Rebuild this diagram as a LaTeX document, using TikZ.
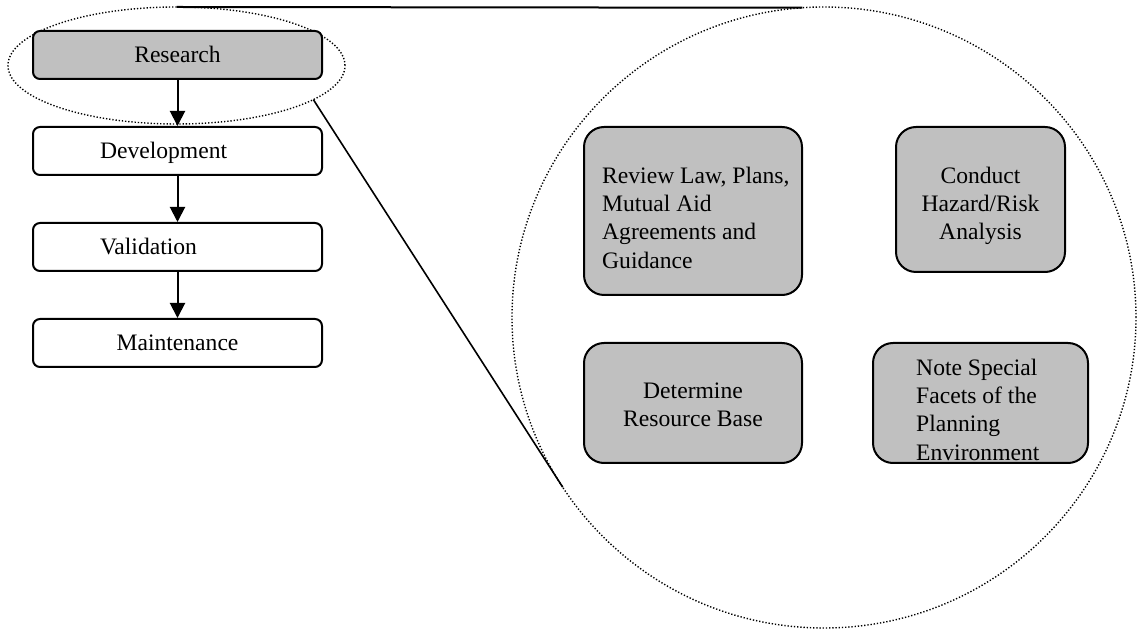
\documentclass[tikz,border=0pt]{standalone}
\usepackage{fontspec}
\setmainfont{Liberation Serif}
\usetikzlibrary{shapes.geometric,arrows.meta}
\definecolor{boxgray}{RGB}{192,192,192}
\begin{document}
\begin{tikzpicture}[x=1pt,y=1pt,
  every node/.style={font=\fontsize{23.6pt}{28.3pt}\selectfont},
  stagebox/.style={draw, line width=2pt, rounded corners=7pt,
    inner xsep=67pt, inner ysep=0pt, text width=155pt,
    minimum height=48pt, text height=20pt, text depth=4pt},
  taskbox/.style={draw, fill=boxgray, line width=2pt, rounded corners=20pt, inner sep=0pt},
  tasktext/.style={inner sep=0pt},
  flow/.style={line width=2pt, -{Triangle[width=15pt,length=15pt]}},
  dotline/.style={line width=1.4pt, dash pattern=on 1.3pt off 1.9pt},
  ring/.style={ellipse, draw, dotline, inner sep=0pt, outer sep=0pt}
]
\useasboundingbox (0,0) rectangle (1137,629);

% magnifier outlines
\node[ring, minimum width=337pt, minimum height=117pt] (lens) at (176.5,563.5) {};
\node[ring, minimum width=624pt, minimum height=621pt] (zoomc) at (824,311.5) {};

% lines joining the small outline to the enlarged view
\draw[line width=2pt] (lens.north) -- (zoomc.94.5);
\draw[line width=1.6pt] (lens.-14) -- (zoomc.213);

% planning stages
\node[stagebox, fill=boxgray, align=center] (research) at (177.5,574) {Research};
\node[stagebox, align=left] (development) at (177.5,478) {Development};
\node[stagebox, align=left] (validation) at (177.5,382) {Validation};
\node[stagebox, align=center] (maintenance) at (177.5,286) {Maintenance};

\draw[flow] (research.south) -- (development.north);
\draw[flow] (development.south) -- (validation.north);
\draw[flow] (validation.south) -- (maintenance.north);

% research tasks
\node[taskbox, minimum width=218pt, minimum height=168pt] (review) at (693,418) {};
\node[tasktext, align=left, anchor=west] (reviewtext) at ([xshift=19pt,yshift=-6.5pt]review.west)
  {Review Law, Plans,\\Mutual Aid\\Agreements and\\Guidance};

\node[taskbox, minimum width=169pt, minimum height=145pt] (conduct) at (980.5,429.5) {};
\node[tasktext, align=center] (conducttext) at ([yshift=-6.3pt]conduct.center)
  {Conduct\\Hazard/Risk\\Analysis};

\node[taskbox, minimum width=218pt, minimum height=120pt] (determine) at (693,226) {};
\node[tasktext, align=center] (determinetext) at ([yshift=-2pt]determine.center)
  {Determine\\Resource Base};

\node[taskbox, minimum width=215pt, minimum height=120pt] (facets) at (980.5,226) {};
\node[tasktext, align=left, anchor=west] (facetstext) at ([xshift=44pt,yshift=-6.5pt]facets.west)
  {Note Special\\Facets of the\\Planning\\Environment};
\end{tikzpicture}
\end{document}
